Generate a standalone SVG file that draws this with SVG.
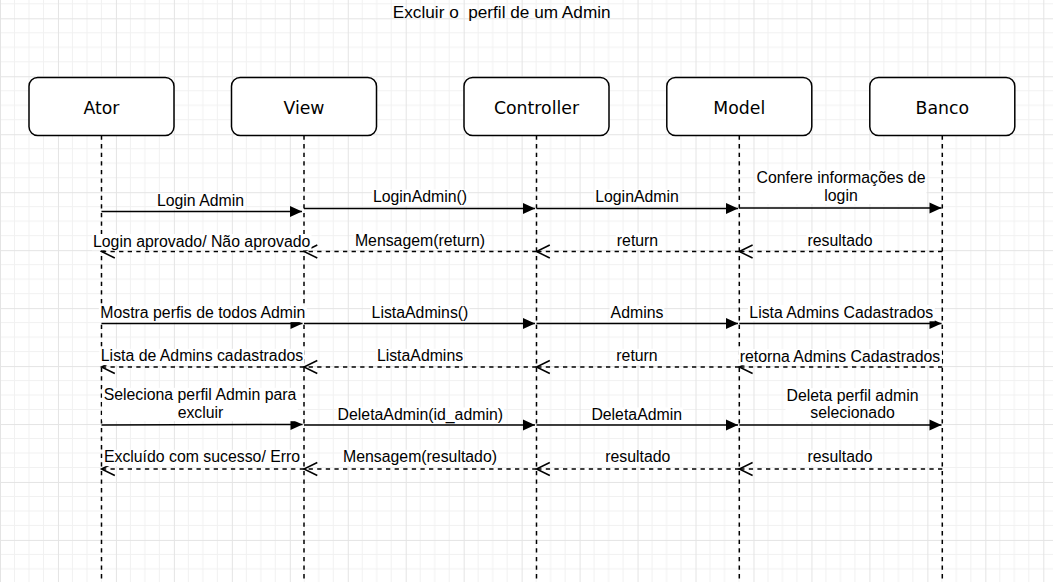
<svg xmlns="http://www.w3.org/2000/svg" width="1053" height="582" viewBox="0 0 1053 582">
<style>
.box{fill:#fff;stroke:#000;stroke-width:1.5}
.bt{font-family:"DejaVu Sans",Verdana,sans-serif;font-size:17.3px;text-anchor:middle;fill:#000}
.life{stroke:#000;stroke-width:1.5;stroke-dasharray:4.3 4.3;fill:none}
.msg{stroke:#000;stroke-width:1.5;fill:none;marker-end:url(#solid)}
.ret{stroke:#000;stroke-width:1.5;stroke-dasharray:4.3 4.3;fill:none;marker-end:url(#open)}
.lt{font-family:"Liberation Sans",Arial,sans-serif;font-size:15.84px;text-anchor:middle;fill:#000}
.bg{fill:#fff}
.title{font-family:"Liberation Sans",Arial,sans-serif;font-size:17.2px;text-anchor:middle;fill:#000;white-space:pre}
</style>
<defs>
<pattern id="grid" patternUnits="userSpaceOnUse" x="0" y="18.3" width="57.96" height="57.96">
<path d="M14.49,0V57.96M28.98,0V57.96M43.47,0V57.96M0,14.49H57.96M0,28.98H57.96M0,43.47H57.96" stroke="#f1f1f1" stroke-width="1" fill="none"/>
<path d="M0.5,0V57.96M0,0.5H57.96" stroke="#e4e4e4" stroke-width="1" fill="none"/>
</pattern>
<marker id="solid" markerUnits="userSpaceOnUse" markerWidth="14" markerHeight="13" refX="12" refY="5.5" orient="auto" overflow="visible">
<path d="M0,0L12,5.5L0,11Z" fill="#000" stroke="none"/>
</marker>
<marker id="open" markerUnits="userSpaceOnUse" markerWidth="15" markerHeight="15" refX="13.3" refY="6.5" orient="auto" overflow="visible">
<path d="M0,0L13.3,6.5L0,13" fill="none" stroke="#000" stroke-width="1.5" stroke-dasharray="none"/>
</marker>
</defs>
<rect x="0" y="0" width="1053" height="582" fill="#fff"/>
<rect x="0" y="0" width="1053" height="582" fill="url(#grid)"/>
<text class="title" x="501.7" y="18">Excluir o  perfil de um Admin</text>

<g id="ator">
<line class="life" x1="101.5" y1="135.5" x2="101.5" y2="582"/>
<rect class="box" x="29" y="77.5" width="145" height="58" rx="8.7"/>
<text class="bt" x="101.5" y="114">Ator</text>
</g>
<g id="view">
<line class="life" x1="304" y1="135.5" x2="304" y2="582"/>
<rect class="box" x="231.5" y="77.5" width="145" height="58" rx="8.7"/>
<text class="bt" x="304" y="114">View</text>
</g>
<g id="controller">
<line class="life" x1="536.5" y1="135.5" x2="536.5" y2="582"/>
<rect class="box" x="464" y="77.5" width="145" height="58" rx="8.7"/>
<text class="bt" x="536.5" y="114">Controller</text>
</g>
<g id="model">
<line class="life" x1="739.3" y1="135.5" x2="739.3" y2="582"/>
<rect class="box" x="666.8" y="77.5" width="145" height="58" rx="8.7"/>
<text class="bt" x="739.3" y="114">Model</text>
</g>
<g id="banco">
<line class="life" x1="942.3" y1="135.5" x2="942.3" y2="582"/>
<rect class="box" x="869.8" y="77.5" width="145" height="58" rx="8.7"/>
<text class="bt" x="942.3" y="114">Banco</text>
</g>

<g id="connectors">
<!-- Row 1 -->
<line class="msg" x1="101.5" y1="211.5" x2="302" y2="211.5"/>
<line class="msg" x1="304" y1="208.5" x2="535" y2="208.5"/>
<line class="msg" x1="536.5" y1="208.5" x2="738" y2="208.5"/>
<line class="msg" x1="739.3" y1="208" x2="941.5" y2="208"/>
<rect class="bg" x="155.5" y="193.2" width="90" height="16.3"/>
<text class="lt" x="200.5" y="205.7">Login Admin</text>
<rect class="bg" x="371.9" y="189.5" width="96.2" height="16.3"/>
<text class="lt" x="420" y="202">LoginAdmin()</text>
<rect class="bg" x="594.2" y="189.5" width="85.6" height="16.3"/>
<text class="lt" x="637" y="202">LoginAdmin</text>
<rect class="bg" x="755.5" y="170.2" width="171" height="33.8"/>
<text class="lt" x="841" y="182.7">Confere informações de</text>
<text class="lt" x="841" y="200.5">login</text>
<!-- Row 2 -->
<line class="ret" x1="942.3" y1="251.5" x2="739.3" y2="251.5"/>
<line class="ret" x1="739.3" y1="251.5" x2="536.5" y2="251.5"/>
<line class="ret" x1="536.5" y1="251.5" x2="304" y2="251.5"/>
<line class="ret" x1="304" y1="251.5" x2="101.5" y2="251.5"/>
<rect class="bg" x="92" y="234" width="219.5" height="16.3"/>
<text class="lt" x="201.7" y="246.5">Login aprovado/ Não aprovado</text>
<rect class="bg" x="353.9" y="233.5" width="132.3" height="16.3"/>
<text class="lt" x="420" y="246">Mensagem(return)</text>
<rect class="bg" x="615.8" y="233.2" width="43.4" height="16.3"/>
<text class="lt" x="637.5" y="245.7">return</text>
<rect class="bg" x="806.4" y="233" width="67.2" height="16.3"/>
<text class="lt" x="840" y="245.5">resultado</text>
<!-- Row 3 -->
<line class="msg" x1="101.5" y1="323.5" x2="302.5" y2="323.5"/>
<line class="msg" x1="304" y1="323.5" x2="535" y2="323.5"/>
<line class="msg" x1="536.5" y1="323.5" x2="738" y2="323.5"/>
<line class="msg" x1="739.3" y1="323.5" x2="941.5" y2="323.5"/>
<rect class="bg" x="98.8" y="305.8" width="208" height="16.3"/>
<text class="lt" x="202.8" y="318.3">Mostra perfis de todos Admin</text>
<rect class="bg" x="370.6" y="305.5" width="98.8" height="16.3"/>
<text class="lt" x="420" y="318">ListaAdmins()</text>
<rect class="bg" x="609.6" y="305.5" width="54.8" height="16.3"/>
<text class="lt" x="637" y="318">Admins</text>
<rect class="bg" x="747.9" y="305" width="186.9" height="16.3"/>
<text class="lt" x="841.3" y="317.5">Lista Admins Cadastrados</text>
<!-- Row 4 -->
<line class="ret" x1="942.3" y1="367" x2="739.3" y2="367"/>
<line class="ret" x1="739.3" y1="367" x2="536.5" y2="367"/>
<line class="ret" x1="536.5" y1="367" x2="304" y2="367"/>
<line class="ret" x1="304" y1="367" x2="101.5" y2="367"/>
<rect class="bg" x="99.3" y="348.8" width="205.4" height="16.3"/>
<text class="lt" x="202" y="361.3">Lista de Admins cadastrados</text>
<rect class="bg" x="375.9" y="348.8" width="88.3" height="16.3"/>
<text class="lt" x="420" y="361.3">ListaAdmins</text>
<rect class="bg" x="615.3" y="348.8" width="43.4" height="16.3"/>
<text class="lt" x="637" y="361.3">return</text>
<rect class="bg" x="738.2" y="349" width="203.6" height="16.3"/>
<text class="lt" x="840" y="361.5">retorna Admins Cadastrados</text>
<!-- Row 5 -->
<line class="msg" x1="101.5" y1="425" x2="302.5" y2="424.5"/>
<line class="msg" x1="304" y1="425" x2="535" y2="425"/>
<line class="msg" x1="536.5" y1="425" x2="738" y2="425"/>
<line class="msg" x1="739.3" y1="425" x2="941.5" y2="425"/>
<rect class="bg" x="102.2" y="387.8" width="195.7" height="33.4"/>
<text class="lt" x="200" y="400.3">Seleciona perfil Admin para</text>
<text class="lt" x="200.5" y="417.7">excluir</text>
<rect class="bg" x="336.6" y="407.5" width="167.5" height="16.3"/>
<text class="lt" x="420.3" y="420">DeletaAdmin(id_admin)</text>
<rect class="bg" x="590.4" y="407.5" width="92.7" height="16.3"/>
<text class="lt" x="636.7" y="420">DeletaAdmin</text>
<rect class="bg" x="785.5" y="388.2" width="134" height="33.6"/>
<text class="lt" x="852.5" y="400.7">Deleta perfil admin</text>
<text class="lt" x="852.5" y="418.3">selecionado</text>
<!-- Row 6 -->
<line class="ret" x1="942.3" y1="469" x2="739.3" y2="469"/>
<line class="ret" x1="739.3" y1="469" x2="536.5" y2="469"/>
<line class="ret" x1="536.5" y1="469" x2="304" y2="469"/>
<line class="ret" x1="304" y1="469" x2="101.5" y2="469"/>
<rect class="bg" x="102.9" y="449.8" width="198.3" height="16.3"/>
<text class="lt" x="202" y="462.3">Excluído com sucesso/ Erro</text>
<rect class="bg" x="342" y="449.8" width="156" height="16.3"/>
<text class="lt" x="420" y="462.3">Mensagem(resultado)</text>
<rect class="bg" x="604.2" y="449.8" width="67.2" height="16.3"/>
<text class="lt" x="637.8" y="462.3">resultado</text>
<rect class="bg" x="806.4" y="449.8" width="67.2" height="16.3"/>
<text class="lt" x="840" y="462.3">resultado</text>
</g>
</svg>
